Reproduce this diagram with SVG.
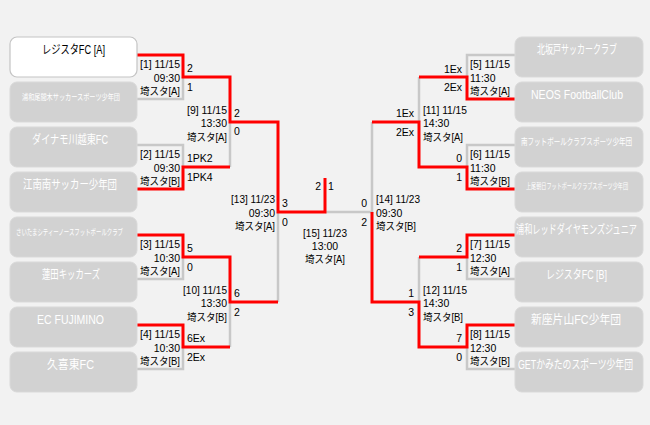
<svg xmlns="http://www.w3.org/2000/svg" width="650" height="425" viewBox="0 0 650 425">
<style>
.bx{fill:#d2d2d2;stroke:#d9d9d9;stroke-width:1}
.bw{fill:#ffffff;stroke:#c4c4c4;stroke-width:1.2}
.nm{font-family:"Liberation Sans","Noto Sans CJK JP",sans-serif;font-size:12px;fill:#ffffff;text-anchor:middle}
.sm{font-size:8.5px}
.blk{fill:#000000}
.lb{font-family:"Liberation Sans","Noto Sans CJK JP",sans-serif;font-size:10.5px;fill:#000000}
.r{text-anchor:end}
.c{text-anchor:middle}
.g{fill:none;stroke:#c8c8c8;stroke-width:2.5}
.rd{fill:none;stroke:#ff0000;stroke-width:3}
</style>
<rect width="650" height="425" fill="#f2f2f2"/>

<g id="connectors">
<path class="g" d="M137,99H183V77"/>
<path class="g" d="M137,145H183V167"/>
<path class="g" d="M230,167V122"/>
<path class="g" d="M137,279H183V257"/>
<path class="g" d="M137,369H183V347"/>
<path class="g" d="M230,347V302"/>
<path class="g" d="M278,302V212"/>
<path class="g" d="M325,212H372V122"/>
<path class="g" d="M419,77V122"/>
<path class="g" d="M515,55H467V77"/>
<path class="g" d="M515,145H467V167"/>
<path class="g" d="M419,257V302"/>
<path class="g" d="M515,279H467V257"/>
<path class="g" d="M515,369H467V347"/>
<path class="rd" d="M137,55H183V77H230V122H278V212H325V178"/>
<path class="rd" d="M137,189H183V167H230"/>
<path class="rd" d="M137,235H183V257H230V302H278"/>
<path class="rd" d="M137,325H183V347H230"/>
<path class="rd" d="M372,122H419V167H467V189H515"/>
<path class="rd" d="M419,77H467V99H515"/>
<path class="rd" d="M372,212V302H419V347H467V325H515"/>
<path class="rd" d="M419,257H467V235H515"/>
</g>

<g id="team-l1"><rect class="bw" x="10" y="37" width="127" height="40" rx="7"/><text class="nm blk" x="73.5" y="54" textLength="63" lengthAdjust="spacingAndGlyphs">レジスタFC [A]</text></g>
<g id="team-l2"><rect class="bx" x="10" y="82" width="127" height="40" rx="7"/><text class="nm sm" x="71" y="100" textLength="98" lengthAdjust="spacingAndGlyphs">浦和尾間木サッカースポーツ少年団</text></g>
<g id="team-l3"><rect class="bx" x="10" y="127" width="127" height="40" rx="7"/><text class="nm" x="70" y="144" textLength="76" lengthAdjust="spacingAndGlyphs">ダイナモ川越東FC</text></g>
<g id="team-l4"><rect class="bx" x="10" y="172" width="127" height="40" rx="7"/><text class="nm" x="70" y="189" textLength="94" lengthAdjust="spacingAndGlyphs">江南南サッカー少年団</text></g>
<g id="team-l5"><rect class="bx" x="10" y="217" width="127" height="40" rx="7"/><text class="nm sm" x="69.5" y="235" textLength="107" lengthAdjust="spacingAndGlyphs">さいたまシティーノースフットボールクラブ</text></g>
<g id="team-l6"><rect class="bx" x="10" y="262" width="127" height="40" rx="7"/><text class="nm" x="71" y="279" textLength="58" lengthAdjust="spacingAndGlyphs">蓮田キッカーズ</text></g>
<g id="team-l7"><rect class="bx" x="10" y="307" width="127" height="40" rx="7"/><text class="nm" x="70.5" y="324" textLength="67" lengthAdjust="spacingAndGlyphs">EC FUJIMINO</text></g>
<g id="team-l8"><rect class="bx" x="10" y="352" width="127" height="40" rx="7"/><text class="nm" x="70.5" y="369" textLength="47" lengthAdjust="spacingAndGlyphs">久喜東FC</text></g>

<g id="team-r1"><rect class="bx" x="515" y="37" width="128" height="40" rx="7"/><text class="nm" x="577" y="54" textLength="80" lengthAdjust="spacingAndGlyphs">北坂戸サッカークラブ</text></g>
<g id="team-r2"><rect class="bx" x="515" y="82" width="128" height="40" rx="7"/><text class="nm" x="577" y="99" textLength="92" lengthAdjust="spacingAndGlyphs">NEOS FootballClub</text></g>
<g id="team-r3"><rect class="bx" x="515" y="127" width="128" height="40" rx="7"/><text class="nm" style="font-size:9.5px" x="576.5" y="145" textLength="111" lengthAdjust="spacingAndGlyphs">南フットボールクラブスポーツ少年団</text></g>
<g id="team-r4"><rect class="bx" x="515" y="172" width="128" height="40" rx="7"/><text class="nm" style="font-size:8px" x="577" y="189" textLength="102" lengthAdjust="spacingAndGlyphs">上尾朝日フットボールクラブスポーツ少年団</text></g>
<g id="team-r5"><rect class="bx" x="515" y="217" width="128" height="40" rx="7"/><text class="nm" x="576.5" y="234" textLength="121" lengthAdjust="spacingAndGlyphs">浦和レッドダイヤモンズジュニア</text></g>
<g id="team-r6"><rect class="bx" x="515" y="262" width="128" height="40" rx="7"/><text class="nm" x="576.5" y="279" textLength="61" lengthAdjust="spacingAndGlyphs">レジスタFC [B]</text></g>
<g id="team-r7"><rect class="bx" x="515" y="307" width="128" height="40" rx="7"/><text class="nm" x="576" y="324" textLength="90" lengthAdjust="spacingAndGlyphs">新座片山FC少年団</text></g>
<g id="team-r8"><rect class="bx" x="515" y="352" width="128" height="40" rx="7"/><text class="nm" x="575.5" y="369" textLength="115" lengthAdjust="spacingAndGlyphs">GETかみたのスポーツ少年団</text></g>

<g id="match-1"><text class="lb r" x="180" y="68" textLength="40" lengthAdjust="spacingAndGlyphs">[1] 11/15</text><text class="lb r" x="180" y="82">09:30</text><text class="lb r" x="180" y="95" textLength="40" lengthAdjust="spacingAndGlyphs">埼スタ[A]</text><text class="lb" x="187" y="72">2</text><text class="lb" x="187" y="91">1</text></g>
<g id="match-2"><text class="lb r" x="180" y="158" textLength="40" lengthAdjust="spacingAndGlyphs">[2] 11/15</text><text class="lb r" x="180" y="172">09:30</text><text class="lb r" x="180" y="185" textLength="40" lengthAdjust="spacingAndGlyphs">埼スタ[B]</text><text class="lb" x="187" y="162">1PK2</text><text class="lb" x="187" y="181">1PK4</text></g>
<g id="match-3"><text class="lb r" x="180" y="248" textLength="40" lengthAdjust="spacingAndGlyphs">[3] 11/15</text><text class="lb r" x="180" y="262">10:30</text><text class="lb r" x="180" y="275" textLength="40" lengthAdjust="spacingAndGlyphs">埼スタ[A]</text><text class="lb" x="187" y="252">5</text><text class="lb" x="187" y="271">0</text></g>
<g id="match-4"><text class="lb r" x="180" y="338" textLength="40" lengthAdjust="spacingAndGlyphs">[4] 11/15</text><text class="lb r" x="180" y="352">10:30</text><text class="lb r" x="180" y="365" textLength="40" lengthAdjust="spacingAndGlyphs">埼スタ[B]</text><text class="lb" x="187" y="342">6Ex</text><text class="lb" x="187" y="361">2Ex</text></g>
<g id="match-9"><text class="lb r" x="227" y="114" textLength="40" lengthAdjust="spacingAndGlyphs">[9] 11/15</text><text class="lb r" x="227" y="127">13:30</text><text class="lb r" x="227" y="141" textLength="40" lengthAdjust="spacingAndGlyphs">埼スタ[A]</text><text class="lb" x="234" y="117">2</text><text class="lb" x="234" y="135">0</text></g>
<g id="match-10"><text class="lb r" x="227" y="294" textLength="44" lengthAdjust="spacingAndGlyphs">[10] 11/15</text><text class="lb r" x="227" y="307">13:30</text><text class="lb r" x="227" y="321" textLength="40" lengthAdjust="spacingAndGlyphs">埼スタ[B]</text><text class="lb" x="234" y="297">6</text><text class="lb" x="234" y="316">2</text></g>
<g id="match-13"><text class="lb r" x="275" y="203" textLength="44" lengthAdjust="spacingAndGlyphs">[13] 11/23</text><text class="lb r" x="275" y="217">09:30</text><text class="lb r" x="275" y="230" textLength="40" lengthAdjust="spacingAndGlyphs">埼スタ[A]</text><text class="lb" x="282" y="207">3</text><text class="lb" x="282" y="226">0</text></g>
<g id="match-15"><text class="lb r" x="321" y="190">2</text><text class="lb" x="328" y="190">1</text><text class="lb c" x="325" y="237" textLength="44" lengthAdjust="spacingAndGlyphs">[15] 11/23</text><text class="lb c" x="325" y="250">13:00</text><text class="lb c" x="325" y="263" textLength="40" lengthAdjust="spacingAndGlyphs">埼スタ[A]</text></g>
<g id="match-14"><text class="lb" x="376" y="203" textLength="44" lengthAdjust="spacingAndGlyphs">[14] 11/23</text><text class="lb" x="376" y="217">09:30</text><text class="lb" x="376" y="230" textLength="40" lengthAdjust="spacingAndGlyphs">埼スタ[B]</text><text class="lb r" x="367" y="207">0</text><text class="lb r" x="367" y="226">2</text></g>
<g id="match-11"><text class="lb" x="423" y="114" textLength="44" lengthAdjust="spacingAndGlyphs">[11] 11/15</text><text class="lb" x="423" y="127">14:30</text><text class="lb" x="423" y="141" textLength="40" lengthAdjust="spacingAndGlyphs">埼スタ[A]</text><text class="lb r" x="414" y="117">1Ex</text><text class="lb r" x="414" y="136">2Ex</text></g>
<g id="match-12"><text class="lb" x="423" y="294" textLength="44" lengthAdjust="spacingAndGlyphs">[12] 11/15</text><text class="lb" x="423" y="307">14:30</text><text class="lb" x="423" y="321" textLength="40" lengthAdjust="spacingAndGlyphs">埼スタ[B]</text><text class="lb r" x="414" y="297">1</text><text class="lb r" x="414" y="316">3</text></g>
<g id="match-5"><text class="lb" x="470" y="68" textLength="40" lengthAdjust="spacingAndGlyphs">[5] 11/15</text><text class="lb" x="470" y="82">11:30</text><text class="lb" x="470" y="95" textLength="40" lengthAdjust="spacingAndGlyphs">埼スタ[A]</text><text class="lb r" x="462" y="73">1Ex</text><text class="lb r" x="462" y="91">2Ex</text></g>
<g id="match-6"><text class="lb" x="470" y="158" textLength="40" lengthAdjust="spacingAndGlyphs">[6] 11/15</text><text class="lb" x="470" y="172">11:30</text><text class="lb" x="470" y="185" textLength="40" lengthAdjust="spacingAndGlyphs">埼スタ[B]</text><text class="lb r" x="462" y="162">0</text><text class="lb r" x="462" y="181">1</text></g>
<g id="match-7"><text class="lb" x="470" y="248" textLength="40" lengthAdjust="spacingAndGlyphs">[7] 11/15</text><text class="lb" x="470" y="262">12:30</text><text class="lb" x="470" y="275" textLength="40" lengthAdjust="spacingAndGlyphs">埼スタ[A]</text><text class="lb r" x="462" y="252">2</text><text class="lb r" x="462" y="271">1</text></g>
<g id="match-8"><text class="lb" x="470" y="338" textLength="40" lengthAdjust="spacingAndGlyphs">[8] 11/15</text><text class="lb" x="470" y="352">12:30</text><text class="lb" x="470" y="365" textLength="40" lengthAdjust="spacingAndGlyphs">埼スタ[B]</text><text class="lb r" x="462" y="342">7</text><text class="lb r" x="462" y="361">0</text></g>
</svg>
